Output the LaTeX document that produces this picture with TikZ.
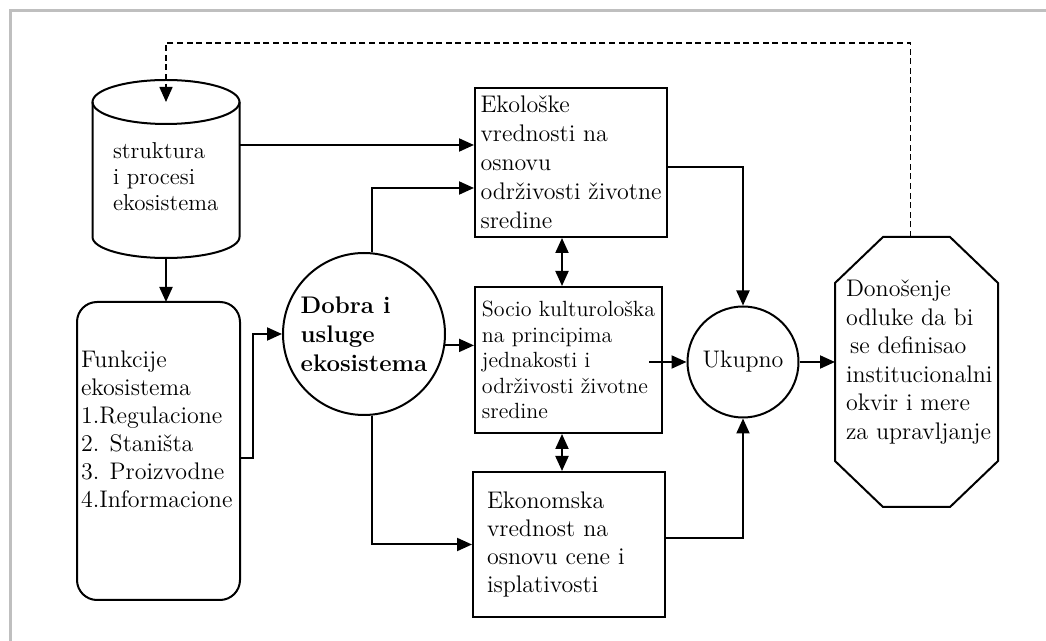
\documentclass[tikz,border=0pt]{standalone}
\usetikzlibrary{arrows.meta,positioning}

\begin{document}
\begin{tikzpicture}[x=0.5pt, y=-0.5pt, line width=1pt, >={Triangle[length=7.5pt,width=6.5pt]},
        font=\fontsize{12}{14}\selectfont,
        okvir/.style={draw, rectangle, inner sep=1.5pt, align=left},
        krug/.style={draw, circle, inner sep=0pt, align=left},
        oblik/.style={rectangle, inner sep=0pt, outer sep=0pt},
        tekst/.style={inner sep=0pt, align=left, anchor=north west},
        povratna/.style={->, dash pattern=on 3pt off 1.8pt, line width=0.8pt}]
    \useasboundingbox (0,0) rectangle (1046,641);
    \draw[gray!50, line width=1.5pt] (10,641) -- (10,11) -- (1046,11);

    % struktura i funkcije
    \node[oblik, minimum width=73.5pt, minimum height=89pt] (cyl) at (166,169) {};
    \draw ([yshift=-11pt]cyl.north west) -- ([yshift=10.5pt]cyl.south west)
        arc[start angle=180, end angle=360, x radius=36.75pt, y radius=10.5pt]
        -- ([yshift=-11pt]cyl.north east);
    \draw ([yshift=-11pt]cyl.north) ellipse[x radius=36.75pt, y radius=11pt];
    \node[tekst, font=\fontsize{11.5}{13}\selectfont] (cylTekst) at (112,142) {struktura\\i procesi\\ekosistema};

    \node[draw, oblik, rounded corners=10pt, minimum width=81.5pt, minimum height=149pt] (func) at (158.5,451) {};
    \node[tekst] (funcTekst) at (80,350) {Funkcije\\ekosistema\\1.Regulacione\\2. Staništa\\3. Proizvodne\\4.Informacione};

    \node[krug, minimum size=81pt, font=\fontsize{12}{14.5}\selectfont\bfseries] (dobra) at (364,334) {Dobra i\\usluge\\ekosistema};

    % vrednosti
    \node[okvir, minimum width=96pt, minimum height=74.5pt, font=\fontsize{12}{14.5}\selectfont] (eko) at (571,162.5)
        {Ekološke\\vrednosti na\\osnovu\\održivosti životne\\sredine};
    \node[okvir, minimum width=93.5pt, minimum height=73pt, font=\fontsize{11}{12.75}\selectfont] (socio) at (568.5,360)
        {Socio kulturološka\\na principima\\jednakosti i\\održivosti životne\\sredine};
    \node[okvir, text width=82pt, inner xsep=7pt, minimum height=72.5pt] (ekon) at (569,544.5)
        {Ekonomska\\vrednost na\\osnovu cene i\\isplativosti};

    \node[krug, minimum size=55.5pt] (uk) at (743,362) {Ukupno};

    % odluka
    \node[oblik, minimum width=81.5pt, minimum height=135pt] (odl) at (916.5,372) {};
    \draw ([xshift=24pt]odl.north west) -- ([xshift=-24pt]odl.north east) -- ([yshift=-23pt]odl.north east)
        -- ([yshift=23pt]odl.south east) -- ([xshift=-24pt]odl.south east) -- ([xshift=24pt]odl.south west)
        -- ([yshift=23pt]odl.south west) -- ([yshift=-23pt]odl.north west) -- cycle;
    \node[tekst, font=\fontsize{12}{14.25}\selectfont] (odlTekst) at (845,279)
        {Donošenje\\odluke da bi\\\hspace{2pt}se definisao\\institucionalni\\okvir i mere\\za upravljanje};

    % veze
    \coordinate (cylIzlaz) at ([yshift=12pt]cyl.east);
    \coordinate (dobraGore) at ([xshift=4pt]dobra.north);
    \coordinate (dobraDole) at ([xshift=4pt]dobra.south);
    \coordinate (sIzlaz) at ([xshift=-7pt]socio.east);
    \coordinate (os) at (562,0);
    \coordinate (vrh) at (166,43);

    \draw[->] (cyl.south) -- (cyl.south |- func.north);
    \draw[->] ([yshift=-3.5pt]func.east) -- ++(13,0) |- (dobra.west);
    \draw[->] (cylIzlaz) -- (cylIzlaz -| eko.west);
    \draw[->] (dobraGore) |- ([yshift=-12.75pt]eko.west);
    \draw[->] (dobra.-8) -- (dobra.-8 -| socio.west);
    \draw[->] (dobraDole) |- (ekon.west);
    \draw[<->] (os |- eko.south) -- (os |- socio.north);
    \draw[<->] (os |- socio.south) -- (os |- ekon.north);
    \draw[->] ([yshift=-2.5pt]eko.east) -| (uk.north);
    \draw[->] ([yshift=3pt]ekon.east) -| (uk.south);
    \draw[->] (sIzlaz |- uk.west) -- (uk.west);
    \draw[->] (uk.east) -- (uk.east -| odl.west);
    \draw[povratna] ([xshift=-3pt]odl.north) |- (vrh) -- ([yshift=-11pt]cyl.north);
\end{tikzpicture}
\end{document}
